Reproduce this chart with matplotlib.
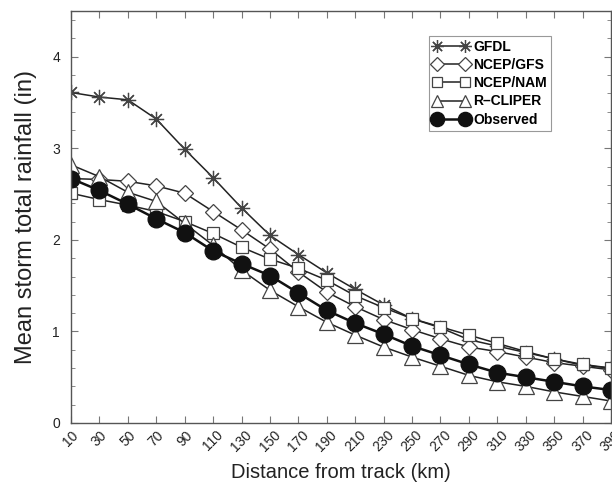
import matplotlib
matplotlib.use("Agg")
import matplotlib.pyplot as plt
from matplotlib.ticker import MultipleLocator

plt.rcParams['font.family'] = ['Liberation Sans', 'DejaVu Sans']

distance = [10, 30, 50, 70, 90, 110, 130, 150, 170, 190, 210, 230, 250, 270, 290, 310, 330, 350, 370, 390]
gfdl = [3.61, 3.56, 3.53, 3.32, 2.99, 2.68, 2.35, 2.05, 1.84, 1.64, 1.46, 1.29, 1.14, 1.04, 0.91, 0.84, 0.77, 0.70, 0.63, 0.60]
ncep_gfs = [2.67, 2.66, 2.64, 2.59, 2.51, 2.31, 2.11, 1.90, 1.65, 1.43, 1.27, 1.13, 1.02, 0.92, 0.83, 0.78, 0.72, 0.66, 0.62, 0.58]
ncep_nam = [2.51, 2.44, 2.38, 2.31, 2.20, 2.07, 1.92, 1.79, 1.69, 1.56, 1.39, 1.26, 1.14, 1.05, 0.96, 0.87, 0.78, 0.70, 0.64, 0.60]
r_cliper = [2.82, 2.69, 2.52, 2.42, 2.18, 1.94, 1.67, 1.45, 1.27, 1.10, 0.96, 0.83, 0.72, 0.62, 0.52, 0.45, 0.40, 0.34, 0.29, 0.24]
observed = [2.67, 2.54, 2.39, 2.23, 2.08, 1.88, 1.74, 1.61, 1.42, 1.23, 1.09, 0.97, 0.84, 0.74, 0.64, 0.55, 0.50, 0.45, 0.40, 0.36]

fig = plt.figure(figsize=(6.12, 4.84), dpi=100)
ax = fig.add_axes([71/612, 61/484, 540/612, 412/484])

edge = '#444444'
ax.plot(distance, gfdl, color='#222222', lw=1.1, marker=(8, 2, 0), ms=11,
        mec=edge, mew=0.9, label='GFDL')
ax.plot(distance, ncep_gfs, color='#222222', lw=1.1, marker='D', ms=8,
        mfc='white', mec=edge, mew=0.9, label='NCEP/GFS')
ax.plot(distance, ncep_nam, color='#222222', lw=1.1, marker='s', ms=9,
        mfc='white', mec=edge, mew=0.9, label='NCEP/NAM')
ax.plot(distance, r_cliper, color='#222222', lw=1.1, marker='^', ms=11,
        mfc='white', mec=edge, mew=0.9, label='R\u2013CLIPER')
ax.plot(distance, observed, color='#111111', lw=1.8, marker='o', ms=12,
        mfc='#111111', mec='#111111', label='Observed')

ax.set_xlim(10, 390)
ax.set_ylim(0, 4.5)
ax.set_xticks(distance)
ax.set_xticklabels([str(d) for d in distance], rotation=45, fontsize=9.5, color='#222222')
ax.yaxis.set_major_locator(MultipleLocator(1))
ax.yaxis.set_minor_locator(MultipleLocator(0.2))
ax.tick_params(axis='both', which='both', direction='in', top=True, right=True,
               colors='#777777', labelcolor='#222222')
ax.tick_params(axis='both', which='major', length=5, labelsize=10)
ax.tick_params(axis='y', which='major', pad=8)
ax.tick_params(axis='y', which='minor', length=3)
for lab in ax.get_xticklabels():
    lab.set_ha('center')
    lab.set_va('top')
for sp in ax.spines.values():
    sp.set_color('#555555')
    sp.set_linewidth(1.0)

ax.set_xlabel('Distance from track (km)', fontsize=14.5, color='#222222', labelpad=6)
ax.set_ylabel('Mean storm total rainfall (in)', fontsize=17, color='#222222', labelpad=11)

leg = ax.legend(loc='upper left', bbox_to_anchor=(0.663, 0.94), numpoints=2,
                handlelength=2.6, handletextpad=0.3, borderpad=0.3,
                labelspacing=0.3, fancybox=False, framealpha=1, markerscale=0.85,
                prop={'weight': 'bold', 'size': 10}, borderaxespad=0)
leg.get_frame().set_edgecolor('#999999')
leg.get_frame().set_linewidth(0.8)

fig.savefig('out.png', dpi=100)
